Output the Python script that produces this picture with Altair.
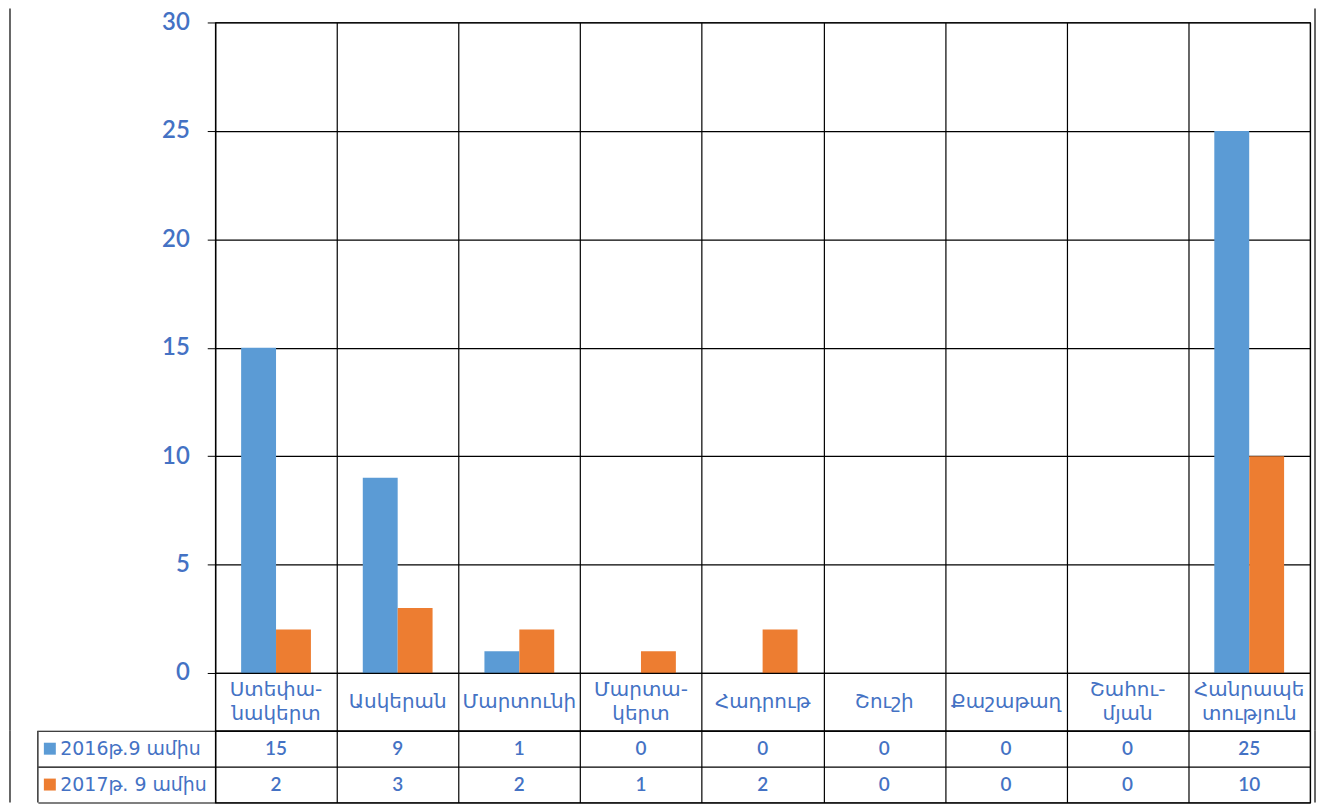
import altair as alt
import pandas as pd

categories = ["Ստեփա-\nնակերտ", "Ասկերան", "Մարտունի", "Մարտա-\nկերտ", "Հադրութ",
              "Շուշի", "Քաշաթաղ", "Շահու-\nմյան", "Հանրապե\nտություն"]
series_names = ["2016թ.9 ամիս", "2017թ. 9 ամիս"]
values_2016 = [15, 9, 1, 0, 0, 0, 0, 0, 25]
values_2017 = [2, 3, 2, 1, 2, 0, 0, 0, 10]
colors = ["#5B9BD5", "#ED7D31"]
y_ticks = [0, 5, 10, 15, 20, 25, 30]

TEXT = "#4472C4"
W = 1099
H = 653
ROW_H = 58
TAB_H = 72
LINE_H = 24

rows = []
for c, a, b in zip(categories, values_2016, values_2017):
    rows.append({"cat": c, "series": series_names[0], "value": a})
    rows.append({"cat": c, "series": series_names[1], "value": b})
df = pd.DataFrame(rows)
cat_df = pd.DataFrame({"cat": categories,
                       "lines": [len(c.split("\n")) for c in categories]})
ser_df = pd.DataFrame({"series": series_names})
one = pd.DataFrame({"k": [0]})


def x_enc():
    return alt.X("cat:N", sort=categories,
                 scale=alt.Scale(domain=categories, paddingInner=0, paddingOuter=0),
                 axis=alt.Axis(title=None, labels=False, ticks=False, domain=False,
                               grid=True, gridColor="#000", gridOpacity=1, gridWidth=1.2,
                               tickBand="extent"))


color_enc = alt.Color("series:N", sort=series_names,
                      scale=alt.Scale(domain=series_names, range=colors), legend=None)


def frame(h, top=0):
    left = alt.Chart(one).mark_rule(color="#000", strokeWidth=1.2).encode(
        x=alt.value(-206), y=alt.value(top), y2=alt.value(h))
    right = alt.Chart(one).mark_rule(color="#000", strokeWidth=1.2).encode(
        x=alt.value(1104), y=alt.value(top), y2=alt.value(h))
    return [left, right]


bars = alt.Chart(df).mark_bar().encode(
    x=x_enc(),
    xOffset=alt.XOffset("series:N", sort=series_names,
                        scale=alt.Scale(domain=series_names, paddingInner=0,
                                        paddingOuter=0.743)),
    y=alt.Y("value:Q", scale=alt.Scale(domain=[0, 30], nice=False),
            axis=alt.Axis(values=y_ticks, title=None, grid=True, gridColor="#000",
                          gridOpacity=1, gridWidth=1.2, tickColor="#000", tickSize=8,
                          domainColor="#000", labelFont="Lato", labelFontSize=24,
                          labelFontWeight=600, labelColor=TEXT, labelPadding=18)),
    color=color_enc,
)
chart_a = alt.layer(bars, *frame(H, -14)).properties(width=W, height=H)

label_style = dict(lineBreak="\n", fontSize=20, color=TEXT, font="DejaVu Sans",
                   lineHeight=LINE_H, baseline="middle")
labels_one = alt.Chart(cat_df).mark_text(**label_style).encode(
    x=x_enc(), y=alt.value(ROW_H / 2), text="cat:N"
).transform_filter("datum.lines == 1")
labels_two = alt.Chart(cat_df).mark_text(**label_style).encode(
    x=x_enc(), y=alt.value(ROW_H / 2 - LINE_H / 2), text="cat:N"
).transform_filter("datum.lines > 1")
chart_b = alt.layer(labels_one, labels_two, *frame(ROW_H)).properties(
    width=W, height=ROW_H)

y_tab = alt.Y("series:N", sort=series_names,
              scale=alt.Scale(domain=series_names, paddingInner=0, paddingOuter=0),
              axis=alt.Axis(title=None, tickBand="extent", tickSize=178, tickColor="#000",
                            tickWidth=1.2, grid=True, gridColor="#000", gridOpacity=1,
                            gridWidth=1.2, domainColor="#000", labelAlign="left",
                            labelPadding=-22, labelFont="DejaVu Sans", labelFontSize=19,
                            labelColor=TEXT))
tab_text = alt.Chart(df).mark_text(fontSize=19, font="Lato", fontWeight=600,
                                   color=TEXT).encode(
    x=x_enc(), y=y_tab, text="value:Q")
squares = alt.Chart(ser_df).mark_square(size=144, opacity=1).encode(
    x=alt.value(-166), y=alt.Y("series:N", sort=series_names), color=color_enc)
left_rule = alt.Chart(one).mark_rule(color="#000", strokeWidth=1.2).encode(
    x=alt.value(-178), y=alt.value(0), y2=alt.value(TAB_H))
chart_c = alt.layer(tab_text, squares, left_rule, *frame(TAB_H)).properties(
    width=W, height=TAB_H)

chart = alt.vconcat(chart_a, chart_b, chart_c, spacing=0, bounds="flush").properties(
    padding={"top": -3, "left": 0, "right": 0, "bottom": 0}
).configure_view(stroke="#000", strokeWidth=1.2)

chart.save("out.html", embed_options={"renderer": "svg", "actions": False})
